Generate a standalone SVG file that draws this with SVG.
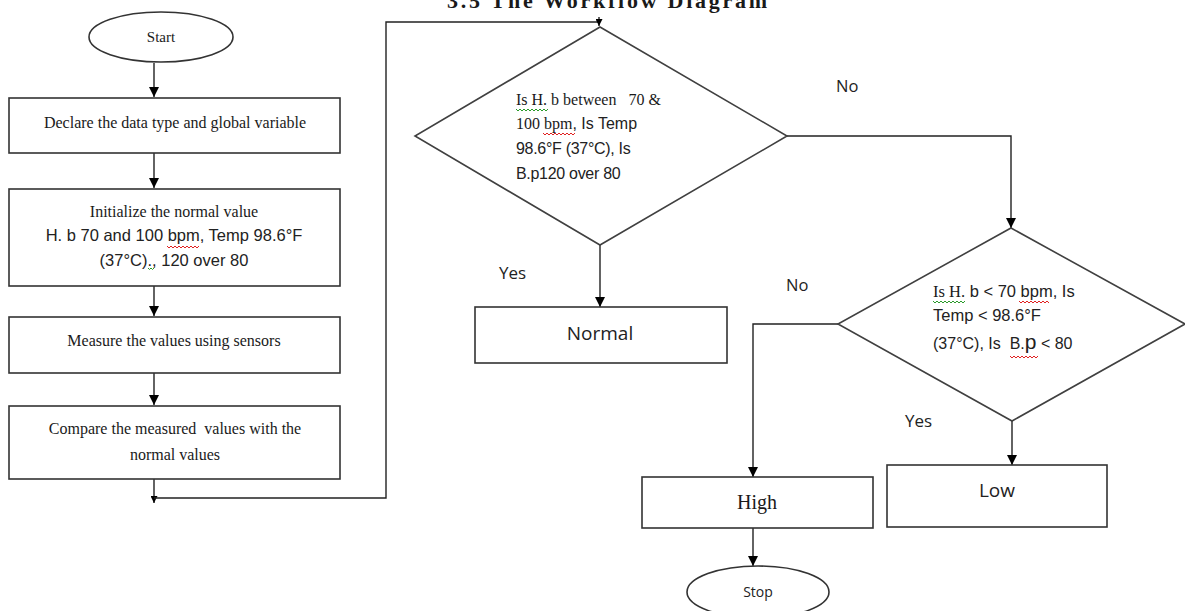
<svg xmlns="http://www.w3.org/2000/svg" width="1185" height="611" viewBox="0 0 1185 611">
<defs>
<marker id="arr" viewBox="0 0 10 10" refX="10" refY="5" markerWidth="10" markerHeight="10" markerUnits="userSpaceOnUse" orient="auto">
<path d="M0,0 L10,5 L0,10 Z" fill="#000"/>
</marker>
<marker id="arrs" viewBox="0 0 10 10" refX="10" refY="5" markerWidth="7" markerHeight="7" markerUnits="userSpaceOnUse" orient="auto">
<path d="M0,0 L10,5 L0,10 Z" fill="#000"/>
</marker>
</defs>
<style>
.box{fill:#fff;stroke:#333;stroke-width:1.6}
.dia{fill:#fff;stroke:#404040;stroke-width:1.6}
.con{fill:none;stroke:#222;stroke-width:1.4}
.serif{font-family:"Liberation Serif","Times New Roman",serif;fill:#1a1a1a}
.sans{font-family:"Liberation Sans",Arial,sans-serif;fill:#222}
.cal{font-family:"Open Sans","Liberation Sans",sans-serif;fill:#222}
.red{fill:none;stroke:#e02020;stroke-width:1}
.grn{fill:none;stroke:#2a9a2a;stroke-width:1}
</style>
<rect width="1185" height="611" fill="#fff"/>
<text class="serif" x="607" y="8" font-size="22" font-weight="bold" text-anchor="middle" textLength="320">3.5   The Workflow Diagram</text>

<g id="connectors">
<path class="con" d="M154,63 V97" marker-end="url(#arr)"/>
<path class="con" d="M154,153 V188" marker-end="url(#arr)"/>
<path class="con" d="M154,286 V316" marker-end="url(#arr)"/>
<path class="con" d="M154,373 V405" marker-end="url(#arr)"/>
<path class="con" d="M154,479 V503" marker-end="url(#arrs)"/>
<path class="con" d="M154,498 H386 V22 H598"/>
<path class="con" d="M599,17 V26" marker-end="url(#arrs)"/>
<path class="con" d="M600,245 V307" marker-end="url(#arr)"/>
<path class="con" d="M787,136 H1011 V228" marker-end="url(#arr)"/>
<path class="con" d="M838,324 H753 V477" marker-end="url(#arr)"/>
<path class="con" d="M1012,421 V465" marker-end="url(#arr)"/>
<path class="con" d="M753,528 V566" marker-end="url(#arr)"/>
<text class="cal" x="499" y="279" font-size="17">Yes</text>
<text class="cal" x="836" y="92" font-size="16.5">No</text>
<text class="cal" x="786" y="291" font-size="16.5">No</text>
<text class="cal" x="905" y="427" font-size="17">Yes</text>
</g>

<g id="start">
<ellipse class="box" cx="161" cy="37" rx="72" ry="25"/>
<text class="serif" x="161" y="42" font-size="15" text-anchor="middle">Start</text>
</g>

<g id="declare">
<rect class="box" x="9" y="98" width="331" height="55"/>
<text class="serif" x="175" y="128" font-size="16" text-anchor="middle">Declare the data type and global variable</text>
</g>

<g id="initialize">
<rect class="box" x="9" y="189" width="331" height="97"/>
<text class="serif" x="174" y="217" font-size="16" text-anchor="middle">Initialize the normal value</text>
<text class="sans" x="174" y="241" font-size="16.5" text-anchor="middle">H. b 70 and 100 bpm, Temp 98.6°F</text>
<text class="sans" x="174" y="266" font-size="16.5" text-anchor="middle">(37°C)., 120 over 80</text>
<path class="red" d="M167,246 l2,2 l2,-2 l2,2 l2,-2 l2,2 l2,-2 l2,2 l2,-2 l2,2 l2,-2 l2,2 l2,-2 l2,2 l2,-2 l2,2 l2,-2"/>
<path class="grn" d="M148,268 l1.5,1.5 l1.5,-1.5 l1.5,1.5 l1.5,-1.5"/>
</g>

<g id="measure">
<rect class="box" x="9" y="317" width="331" height="56"/>
<text class="serif" x="174" y="346" font-size="16" text-anchor="middle">Measure the values using sensors</text>
</g>

<g id="compare">
<rect class="box" x="9" y="406" width="331" height="73"/>
<text class="serif" x="175" y="434" font-size="16" text-anchor="middle" xml:space="preserve">Compare the measured  values with the</text>
<text class="serif" x="175" y="460" font-size="16" text-anchor="middle">normal values</text>
</g>

<g id="decision1">
<path class="dia" d="M600,27 L787,136 L600,245 L415,136 Z"/>
<text class="serif" x="516" y="105" font-size="16" xml:space="preserve">Is H. b between   70 &amp;</text>
<text x="516" y="129" font-size="16"><tspan class="serif">100 bpm</tspan><tspan class="sans">, Is Temp</tspan></text>
<text class="sans" x="516" y="154" font-size="16" letter-spacing="-0.3">98.6°F (37°C), Is</text>
<text class="sans" x="516" y="179" font-size="16" letter-spacing="-0.3">B.p120 over 80</text>
<path class="grn" d="M516,109 l2,2 l2,-2 l2,2 l2,-2 l2,2 l2,-2 l2,2 l2,-2 l2,2 l2,-2 l2,2 l2,-2 l2,2 l2,-2 l2,2 l2,-2"/>
<path class="red" d="M543,133 l2,2 l2,-2 l2,2 l2,-2 l2,2 l2,-2 l2,2 l2,-2 l2,2 l2,-2 l2,2 l2,-2 l2,2 l2,-2 l2,2 l2,-2"/>
</g>

<g id="normal">
<rect class="box" x="475" y="307" width="252" height="56"/>
<text class="cal" x="600" y="340" font-size="19" text-anchor="middle">Normal</text>
</g>

<g id="decision2">
<path class="dia" d="M1011,228 L1185,324 L1012,421 L838,324 Z"/>
<text x="933" y="297" font-size="16.5"><tspan class="serif">Is H.</tspan><tspan class="sans"> b &lt; 70 bpm, Is</tspan></text>
<text class="sans" x="933" y="321" font-size="16.5">Temp &lt; 98.6°F</text>
<text class="sans" x="933" y="349" font-size="16" xml:space="preserve">(37°C), Is  B.<tspan font-size="21">p</tspan> &lt; 80</text>
<path class="grn" d="M933,301 l2,2 l2,-2 l2,2 l2,-2 l2,2 l2,-2 l2,2 l2,-2 l2,2 l2,-2 l2,2 l2,-2 l2,2 l2,-2 l2,2 l2,-2"/>
<path class="red" d="M1019,301 l2,2 l2,-2 l2,2 l2,-2 l2,2 l2,-2 l2,2 l2,-2 l2,2 l2,-2 l2,2 l2,-2 l2,2 l2,-2 l2,2"/>
<path class="red" d="M1010,356 l2,2 l2,-2 l2,2 l2,-2 l2,2 l2,-2 l2,2 l2,-2 l2,2 l2,-2 l2,2 l2,-2 l2,2 l2,-2"/>
</g>

<g id="high">
<rect class="box" x="642" y="477" width="231" height="51"/>
<text class="serif" x="757" y="509" font-size="20" text-anchor="middle">High</text>
</g>

<g id="low">
<rect class="box" x="887" y="465" width="220" height="62"/>
<text class="cal" x="997" y="497" font-size="19" text-anchor="middle">Low</text>
</g>

<g id="stop">
<ellipse class="box" cx="758" cy="592" rx="71" ry="26"/>
<text class="cal" x="758" y="597" font-size="14" text-anchor="middle">Stop</text>
</g>
</svg>
